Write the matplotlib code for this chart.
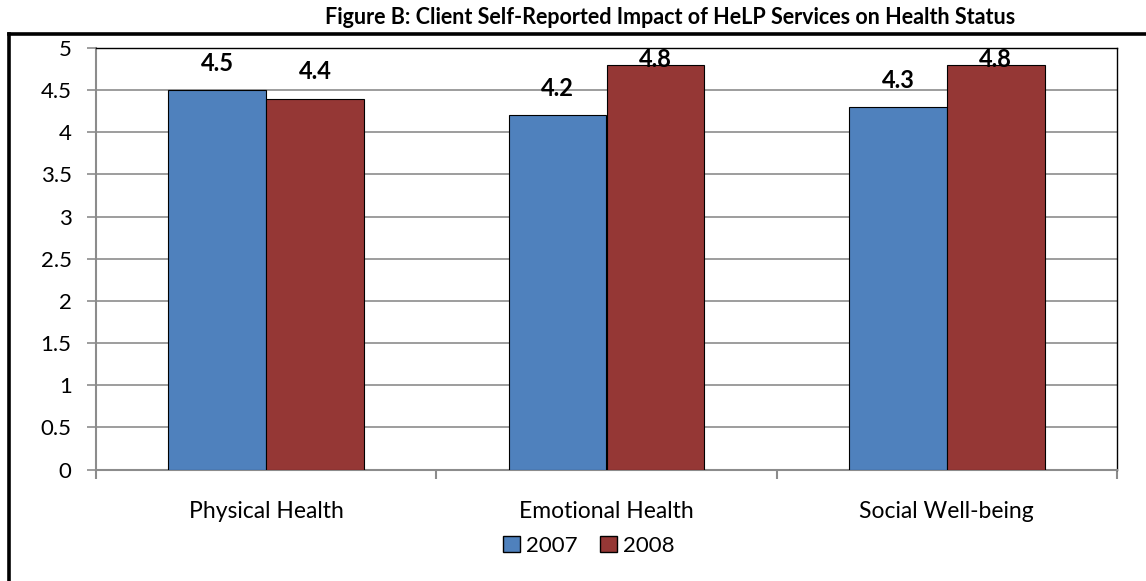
import matplotlib
matplotlib.use("Agg")
import matplotlib.pyplot as plt
import numpy as np
from matplotlib.lines import Line2D
from matplotlib.patches import Patch

categorias = ["Physical Health", "Emotional Health", "Social Well-being"]
valores_2007 = [4.5, 4.2, 4.3]
valores_2008 = [4.4, 4.8, 4.8]
series = ["2007", "2008"]
titulo = "Figure B: Client Self-Reported Impact of HeLP Services on Health Status"

azul = "#4F81BD"
rojo = "#953735"
gris = "#8C8C8C"

plt.rcParams["font.family"] = ["Lato", "DejaVu Sans"]

W, H = 1146, 581
fig = plt.figure(figsize=(W / 100, H / 100), dpi=100)

# marco exterior: solo se ven los bordes superior e izquierdo
fig.add_artist(Line2D([9 / W, 1.01], [1 - 34 / H, 1 - 34 / H], color="black", lw=2.6,
                      transform=fig.transFigure, solid_capstyle="projecting"))
fig.add_artist(Line2D([9 / W, 9 / W], [1 - 34 / H, -0.01], color="black", lw=2.6,
                      transform=fig.transFigure, solid_capstyle="projecting"))

fig.text(670 / W, 1 - 18 / H, titulo, ha="center", va="center",
         fontsize=15.5, fontweight="bold")

x0, x1, y0, y1 = 96, 1117, 48, 469.5
ax = fig.add_axes([x0 / W, 1 - y1 / H, (x1 - x0) / W, (y1 - y0) / H])

x = np.arange(len(categorias))
ancho = 0.287
b1 = ax.bar(x - ancho / 2, valores_2007, ancho, color=azul, edgecolor="black", lw=0.8,
            label=series[0], zorder=3)
b2 = ax.bar(x + ancho / 2, valores_2008, ancho, color=rojo, edgecolor="black", lw=0.8,
            label=series[1], zorder=3)

# etiquetas de valor sobre cada barra (limitadas al borde superior)
for barras, vals in ((b1, valores_2007), (b2, valores_2008)):
    for rect, v in zip(barras, vals):
        ax.text(rect.get_x() + rect.get_width() / 2, min(v + 0.32, 4.86), f"{v}",
                ha="center", va="center", fontsize=17, fontweight="bold", zorder=5)

ax.set_xlim(-0.5, len(categorias) - 0.5)
ax.set_ylim(0, 5)
ax.set_yticks(np.arange(0, 5.01, 0.5))
ax.set_yticklabels(["0", "0.5", "1", "1.5", "2", "2.5", "3", "3.5", "4", "4.5", "5"])
ax.yaxis.grid(True, color=gris, lw=1.2, zorder=0)
ax.set_axisbelow(True)

ax.set_xticks(x)
ax.set_xticklabels(categorias, fontsize=16.5)
ax.tick_params(axis="x", length=0, pad=23)
ax.set_xticks(np.arange(-0.5, len(categorias), 1), minor=True)
ax.tick_params(axis="x", which="minor", length=6.5, width=1.5, color=gris)
ax.tick_params(axis="y", length=6.5, width=1.2, color=gris, labelsize=16, pad=11)

for lado in ("left", "bottom"):
    ax.spines[lado].set_color(gris)
    ax.spines[lado].set_linewidth(1.5)
for lado in ("top", "right"):
    ax.spines[lado].set_color("black")
    ax.spines[lado].set_linewidth(1.0)

handles = [Patch(facecolor=azul, edgecolor="black", lw=1.0),
           Patch(facecolor=rojo, edgecolor="black", lw=1.0)]
fig.legend(handles, series, loc="center", bbox_to_anchor=(589 / W, 1 - 546 / H),
           ncol=2, frameon=False, fontsize=16, handlelength=0.75, handleheight=0.75,
           handletextpad=0.3, columnspacing=1.0)

fig.savefig("out.png", dpi=100)
